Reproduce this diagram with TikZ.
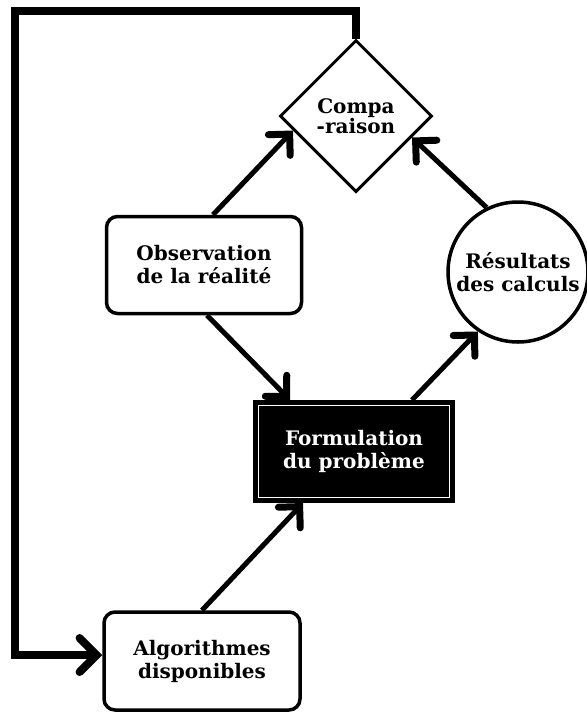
\documentclass[tikz,border=0pt]{standalone}
\usepackage{fontspec}
\setmainfont{DejaVu Serif}
\usetikzlibrary{shapes.geometric,arrows.meta}

\tikzset{
  lbl/.style={font=\bfseries\fontsize{20}{23}\selectfont, align=center, inner sep=0pt},
  roundbox/.style={lbl, draw, line width=3.5pt, rounded corners=11pt, fill=white},
  darkbox/.style={lbl, draw=black, fill=black, text=white, line width=3pt},
  roundnode/.style={lbl, draw, circle, line width=3.5pt, fill=white},
  decision/.style={lbl, draw, diamond, aspect=1, line width=3pt, fill=white},
  flow/.style={line width=5pt, -{Straight Barb[length=15pt,width=30pt,line width=7pt,line cap=round]}},
  loop/.style={line width=7.5pt, -{Straight Barb[length=17pt,width=34pt,line width=8pt,line cap=round]}}
}

\begin{document}
\begin{tikzpicture}[x=1pt, y=-1pt]
  \useasboundingbox[fill=white] (0,0) rectangle (587,713);

  % nodes
  \node[decision, minimum width=152pt, minimum height=152pt,
        font=\bfseries\fontsize{20}{19}\selectfont] (cmp) at (356,116) {Compa\\-raison};
  \node[roundbox, minimum width=195pt, minimum height=97pt] (obs) at (204,265)
        {Observation\\de la réalité};
  \node[roundnode, minimum size=140pt] (res) at (518,272) {Résultats\\des calculs};
  \node[darkbox, minimum width=199pt, minimum height=100pt] (form) at (354,451.5)
        {Formulation\\du problème};
  \draw[white, line width=1.6pt]
        ([shift={(5.5pt,-5.5pt)}]form.north west) rectangle ([shift={(-5.5pt,5.5pt)}]form.south east);
  \node[roundbox, minimum width=196pt, minimum height=98pt] (alg) at (202,661)
        {Algorithmes\\disponibles};

  \coordinate (corner) at (15,11);

  % connectors
  \draw[flow] ([xshift=9pt]obs.north) -- (cmp.193);
  \draw[flow] ([xshift=3pt]obs.south) -- ([xshift=-64pt]form.north);
  \draw[flow] ([xshift=58pt]form.north) -- (res.236);
  \draw[flow] (res.116) -- (cmp.-21);
  \draw[flow] (alg.north) -- ([xshift=-51pt]form.south);
  \draw[loop] (cmp.north) |- (corner) |- ([yshift=6pt]alg.west);
\end{tikzpicture}
\end{document}
